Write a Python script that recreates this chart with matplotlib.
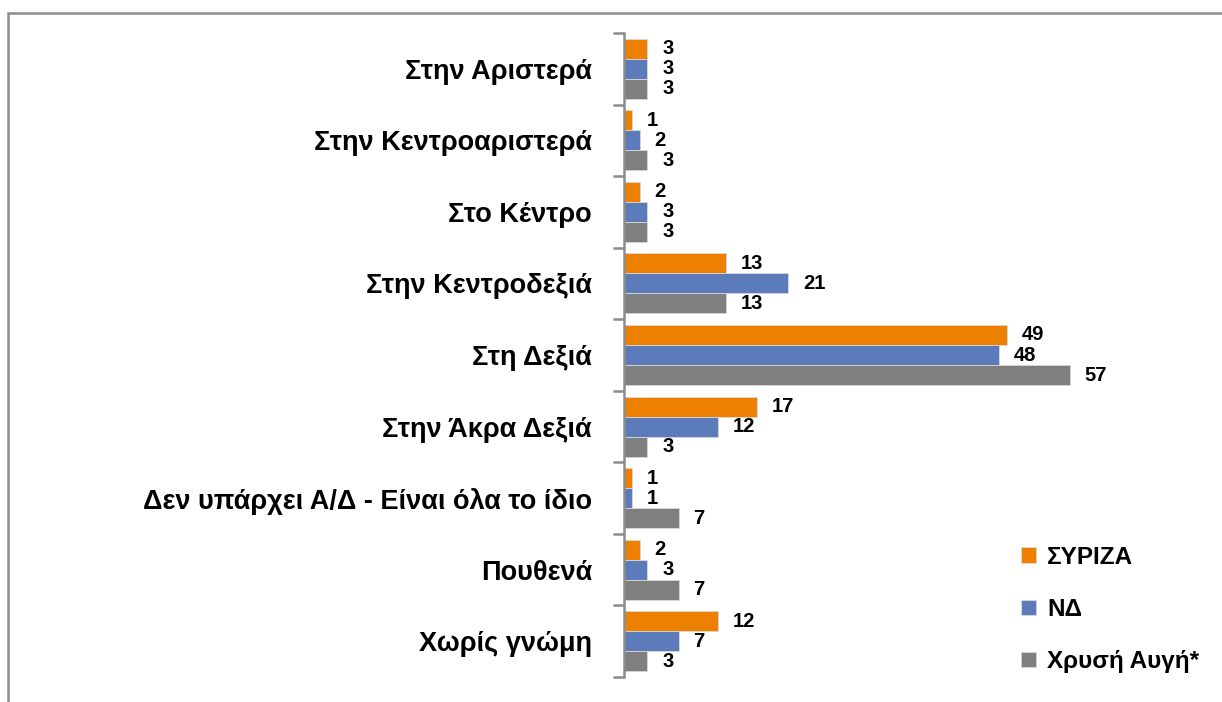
import numpy as np
import matplotlib.pyplot as plt
from matplotlib.patches import Rectangle

categories = ["Στην Αριστερά", "Στην Κεντροαριστερά", "Στο Κέντρο", "Στην Κεντροδεξιά",
              "Στη Δεξιά", "Στην Άκρα Δεξιά", "Δεν υπάρχει Α/Δ - Είναι όλα το ίδιο",
              "Πουθενά", "Χωρίς γνώμη"]
syriza = [3, 1, 2, 13, 49, 17, 1, 2, 12]
nd = [3, 2, 3, 21, 48, 12, 1, 3, 7]
xa = [3, 3, 3, 13, 57, 3, 7, 7, 3]
series_names = ["ΣΥΡΙΖΑ", "ΝΔ", "Χρυσή Αυγή*"]
colors = ["#EE8000", "#5B7BBA", "#7F7F7F"]

plt.rcParams['font.family'] = ['Liberation Sans', 'DejaVu Sans']

fig = plt.figure(figsize=(12.22, 7.02), dpi=100)
ax = fig.add_axes([0.5106, 0.0356, 0.384, 0.9174])

y = np.arange(len(categories))
h = 0.28
for k, (vals, name, c) in enumerate(zip([syriza, nd, xa], series_names, colors)):
    pos = y + (k - 1) * h
    ax.barh(pos, vals, height=h, color=c, edgecolor="#d8d8d8", linewidth=0.6, label=name)
    for p, v in zip(pos, vals):
        ax.text(v + 1.9, p, str(v), va="center", ha="left", fontsize=14.5, fontweight="bold")

ax.set_xlim(0, 60)
ax.set_ylim(len(categories) - 0.5, -0.5)
ax.set_yticks(y)
ax.set_yticklabels(categories, fontsize=19.5, fontweight="bold")
ax.set_yticks(np.arange(-0.5, len(categories)), minor=True)
ax.tick_params(axis="y", which="major", length=0, pad=23)
ax.tick_params(axis="y", which="minor", length=8, width=1.8, color="#8c8c8c")
ax.set_xticks([])
for s in ["top", "right", "bottom"]:
    ax.spines[s].set_visible(False)
ax.spines["left"].set_color("#8c8c8c")
ax.spines["left"].set_linewidth(1.8)

leg = ax.legend(loc="lower left", bbox_to_anchor=(0.818, 0.010), bbox_transform=fig.transFigure,
                frameon=False, prop={"size": 17.5, "weight": "bold"},
                handlelength=0.6, handleheight=0.6, labelspacing=1.2, handletextpad=0.45)

fig.patches.append(Rectangle((8 / 1222, -0.1), 1.2, 1 - 13 / 702 + 0.1, transform=fig.transFigure,
                             fill=False, edgecolor="#8c8c8c", linewidth=1.8))

fig.savefig("out.png", dpi=100)
